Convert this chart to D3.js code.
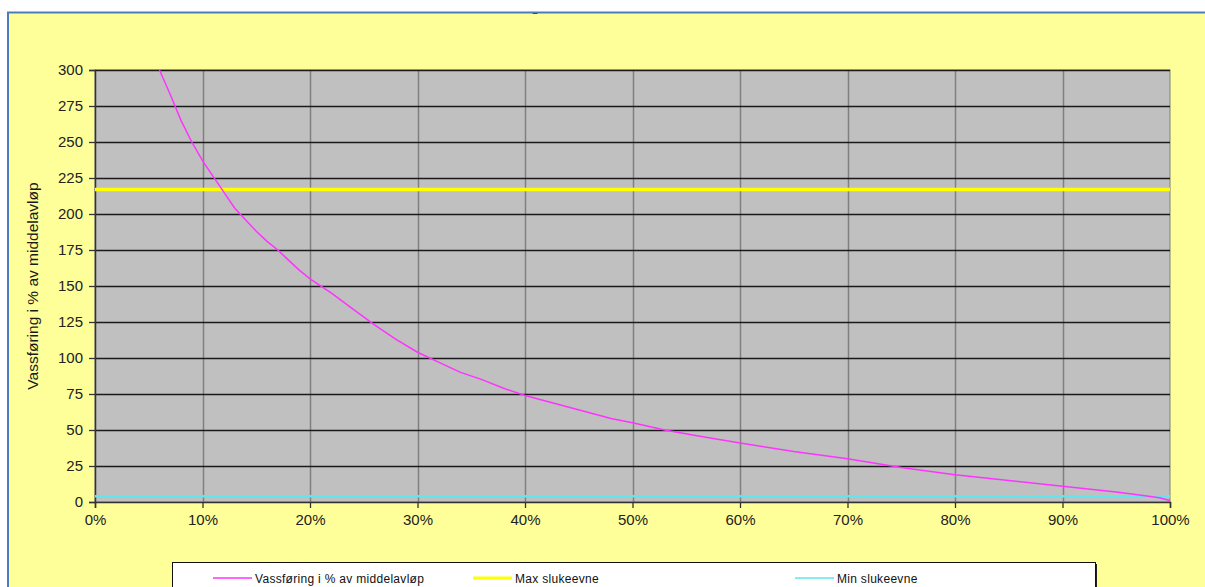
<!DOCTYPE html>
<html>
<head>
<meta charset="utf-8">
<script src="https://cdn.jsdelivr.net/npm/d3@7"></script>
<style>
  html, body { margin: 0; padding: 0; background: #ffffff; }
  svg { display: block; }
  text { font-family: Arial, "Liberation Sans", sans-serif; }
</style>
</head>
<body>
<svg id="chart" width="1205" height="587"></svg>
<script>
// Duration curve: share of time (%) vs discharge in % of mean flow
const exceedance = [6, 7, 8, 9, 10, 11, 12, 13, 14, 15, 16, 17, 18, 19, 20, 22, 24, 26, 28, 30,
  32, 34, 36, 38, 40, 42, 44, 46, 48, 50, 53, 56, 60, 65, 70, 75, 80, 85, 90, 95, 97, 99, 100];
const flowPct = [300, 283, 265, 250, 237, 226, 215, 204, 196, 188, 181, 175, 168, 161, 155, 145, 134, 123, 113, 104,
  97, 90, 85, 79, 74, 70, 66, 62, 58, 55, 50, 46, 41, 35, 30, 24, 19, 15, 11, 7, 5, 3, 1];

const maxCapacity = 217;   // Max slukeevne
const minCapacity = 4;     // Min slukeevne

const yTicks = [0, 25, 50, 75, 100, 125, 150, 175, 200, 225, 250, 275, 300];
const xTicks = [0, 10, 20, 30, 40, 50, 60, 70, 80, 90, 100];

const legendLabels = ["Vassføring i % av middelavløp", "Max slukeevne", "Min slukeevne"];
const colors = { flow: "#ff33ff", max: "#ffff00", min: "#5fe6ee" };

const svg = d3.select("#chart");

// chart area (outer frame)
svg.append("rect").attr("x", 8).attr("y", 12).attr("width", 1205).attr("height", 600)
  .attr("fill", "#ffff99");
svg.append("defs").append("clipPath").attr("id", "frameClip")
  .append("rect").attr("x", 8).attr("y", 13).attr("width", 1200).attr("height", 600);

// title (mostly outside the visible frame)
svg.append("text").attr("clip-path", "url(#frameClip)")
  .attr("x", 503).attr("y", 11).attr("font-size", 15).attr("font-weight", "bold")
  .attr("fill", "#1a1a1a").text("Varighetskurve");

const x = d3.scaleLinear().domain([0, 100]).range([95, 1170]);
const y = d3.scaleLinear().domain([0, 300]).range([502, 70]);

// plot area
svg.append("rect").attr("x", x(0)).attr("y", y(300))
  .attr("width", x(100) - x(0)).attr("height", y(0) - y(300))
  .attr("fill", "#c0c0c0").attr("stroke", "#808080").attr("stroke-width", 1);

// vertical gridlines
svg.append("g").selectAll("line").data(xTicks.slice(1, -1)).join("line")
  .attr("x1", d => Math.round(x(d)) + 0.5).attr("x2", d => Math.round(x(d)) + 0.5)
  .attr("y1", y(300)).attr("y2", y(0))
  .attr("stroke", "#808080").attr("stroke-width", 1.5);

// horizontal gridlines
svg.append("g").selectAll("line").data(yTicks.slice(1)).join("line")
  .attr("x1", x(0)).attr("x2", x(100))
  .attr("y1", d => Math.round(y(d)) + 0.5).attr("y2", d => Math.round(y(d)) + 0.5)
  .attr("stroke", "#1a1a1a").attr("stroke-width", 1.3);

// axes
const yAxis = svg.append("g").attr("transform", `translate(${x(0)},0)`)
  .call(d3.axisLeft(y).tickValues(yTicks).tickSize(6).tickPadding(6));
const xAxis = svg.append("g").attr("transform", `translate(0,${y(0)})`)
  .call(d3.axisBottom(x).tickValues(xTicks).tickFormat(d => d + "%").tickSize(6).tickPadding(6));
[yAxis, xAxis].forEach(a => {
  a.select(".domain").attr("stroke", "#333").attr("stroke-width", 1.5);
  a.selectAll(".tick line").attr("stroke", "#333").attr("stroke-width", 1.3);
  a.selectAll(".tick text").attr("font-size", 15).attr("fill", "#222")
    .attr("font-family", "Arial, 'Liberation Sans', sans-serif");
});

// capacity lines
svg.append("line").attr("x1", x(0)).attr("x2", x(100))
  .attr("y1", y(minCapacity)).attr("y2", y(minCapacity))
  .attr("stroke", colors.min).attr("stroke-width", 2.5);
svg.append("line").attr("x1", x(0)).attr("x2", x(100))
  .attr("y1", y(maxCapacity)).attr("y2", y(maxCapacity))
  .attr("stroke", colors.max).attr("stroke-width", 3.5);

// flow duration curve
const pts = exceedance.map((d, i) => [d, flowPct[i]]);
svg.append("path").datum(pts)
  .attr("d", d3.line().x(d => x(d[0])).y(d => y(d[1])))
  .attr("fill", "none").attr("stroke", colors.flow).attr("stroke-width", 1.5);

// y-axis title
svg.append("text").attr("transform", `translate(38,${(y(0) + y(300)) / 2}) rotate(-90)`)
  .attr("text-anchor", "middle").attr("font-size", 15.5).attr("fill", "#1a1a1a")
  .text("Vassføring i % av middelavløp");

// legend
const lg = svg.append("g");
lg.append("rect").attr("x", 174).attr("y", 564).attr("width", 923).attr("height", 40)
  .attr("fill", "#222");
lg.append("rect").attr("x", 172.5).attr("y", 562.5).attr("width", 923).attr("height", 40)
  .attr("fill", "#ffffff").attr("stroke", "#111").attr("stroke-width", 1);
const items = [
  { label: legendLabels[0], color: colors.flow, x0: 213, w: 1.6 },
  { label: legendLabels[1], color: colors.max, x0: 473, w: 3 },
  { label: legendLabels[2], color: colors.min, x0: 795, w: 1.6 }
];
items.forEach(it => {
  lg.append("line").attr("x1", it.x0).attr("x2", it.x0 + 39)
    .attr("y1", 578).attr("y2", 578).attr("stroke", it.color).attr("stroke-width", it.w);
  lg.append("text").attr("x", it.x0 + 42).attr("y", 582.5)
    .attr("font-size", 12).attr("fill", "#111").attr("letter-spacing", 0.3)
    .text(it.label);
});

// outer frame border
svg.append("line").attr("x1", 7).attr("x2", 1205).attr("y1", 12.5).attr("y2", 12.5)
  .attr("stroke", "#4a7ebb").attr("stroke-width", 2);
svg.append("line").attr("x1", 8).attr("x2", 8).attr("y1", 12).attr("y2", 587)
  .attr("stroke", "#4a7ebb").attr("stroke-width", 2);
</script>
</body>
</html>
